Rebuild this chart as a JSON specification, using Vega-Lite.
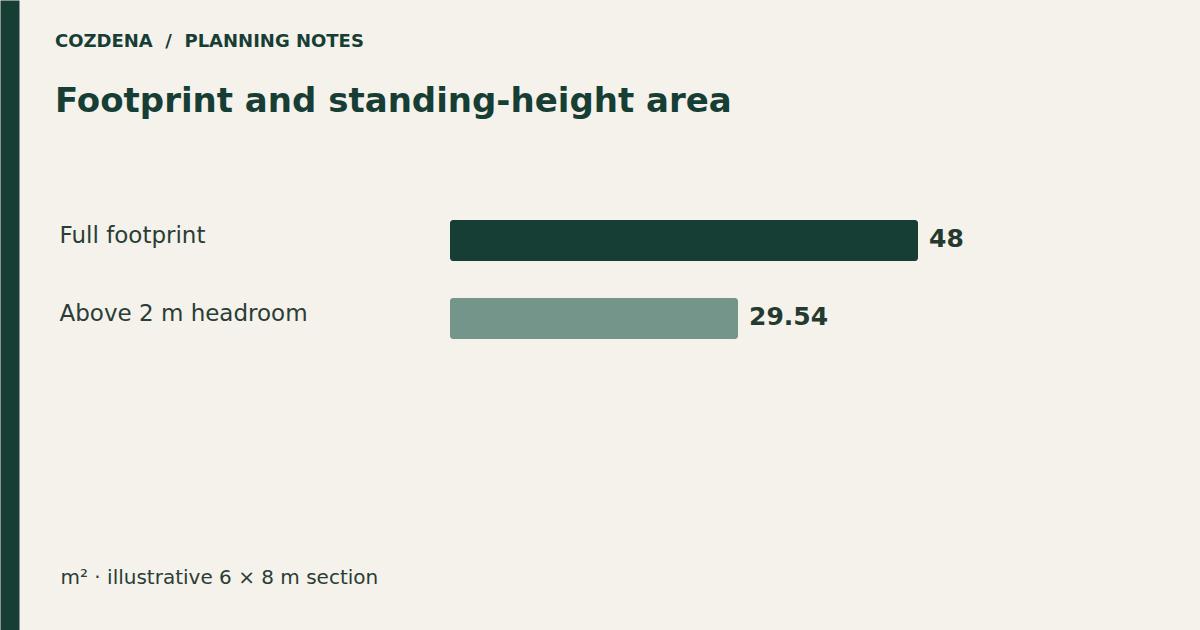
{
  "$schema": "https://vega.github.io/schema/vega-lite/v6.json",
  "width": 750,
  "height": 630,
  "autosize": "none",
  "padding": {"left": 450, "top": 0, "right": 0, "bottom": 0},
  "background": "#f4f2ea",
  "config": {
    "view": {"stroke": null},
    "font": "DejaVu Sans"
  },
  "title": {
    "text": "COZDENA\u00a0\u00a0/\u00a0\u00a0PLANNING NOTES",
    "subtitle": "Footprint and standing-height area",
    "anchor": "start",
    "frame": "group",
    "orient": "top",
    "offset": -119,
    "dx": -395,
    "font": "DejaVu Sans",
    "fontSize": 18,
    "fontWeight": "bold",
    "color": "#173e35",
    "subtitleFont": "DejaVu Sans",
    "subtitleFontSize": 34,
    "subtitleFontWeight": "bold",
    "subtitleColor": "#173e35",
    "subtitlePadding": 34
  },
  "data": {
    "values": [
      {"label": "Full footprint", "area": 48, "kind": "full"},
      {"label": "Above 2 m headroom", "area": 29.54, "kind": "headroom"}
    ]
  },
  "encoding": {
    "y": {
      "field": "label",
      "type": "nominal",
      "sort": null,
      "scale": {
        "domain": ["_pad1", "_pad2", "Full footprint", "Above 2 m headroom", "_pad3", "_pad4", "_pad5"],
        "paddingInner": 0.4744,
        "paddingOuter": 0.7756,
        "align": 0.529
      },
      "axis": {
        "orient": "left",
        "offset": 440.5,
        "title": null,
        "domain": true,
        "domainWidth": 19,
        "domainColor": "#173e35",
        "domainCap": "butt",
        "ticks": false,
        "tickSize": 0,
        "labelExpr": "indexof(datum.value, '_pad') == 0 ? '' : datum.value",
        "labelAlign": "left",
        "labelBaseline": "alphabetic",
        "labelPadding": -49.5,
        "labelOffset": 2,
        "labelFont": "DejaVu Sans",
        "labelFontSize": 23,
        "labelColor": "#2a3d36",
        "labelLimit": 400,
        "labelOverlap": false,
        "grid": false
      }
    },
    "x": {
      "field": "area",
      "type": "quantitative",
      "scale": {"domain": [0, 76.92], "nice": false, "zero": true},
      "axis": {
        "orient": "bottom",
        "labels": false,
        "ticks": false,
        "domain": false,
        "grid": false,
        "title": "m² · illustrative 6 × 8 m section",
        "titleAnchor": "start",
        "titleAlign": "left",
        "titleBaseline": "alphabetic",
        "titleX": -390,
        "titleY": -46.7,
        "titleFont": "DejaVu Sans",
        "titleFontSize": 20,
        "titleFontWeight": "normal",
        "titleColor": "#2a3d36"
      }
    }
  },
  "layer": [
    {
      "mark": {"type": "bar", "cornerRadius": 3},
      "encoding": {
        "color": {
          "field": "kind",
          "type": "nominal",
          "scale": {"domain": ["full", "headroom"], "range": ["#173e35", "#74968a"]},
          "legend": null
        }
      }
    },
    {
      "mark": {
        "type": "text",
        "align": "left",
        "baseline": "alphabetic",
        "dx": 11,
        "dy": 6,
        "font": "DejaVu Sans",
        "fontSize": 25,
        "fontWeight": "bold",
        "color": "#24392f"
      },
      "encoding": {
        "text": {"field": "area", "type": "quantitative", "format": ".4~g"}
      }
    }
  ]
}
